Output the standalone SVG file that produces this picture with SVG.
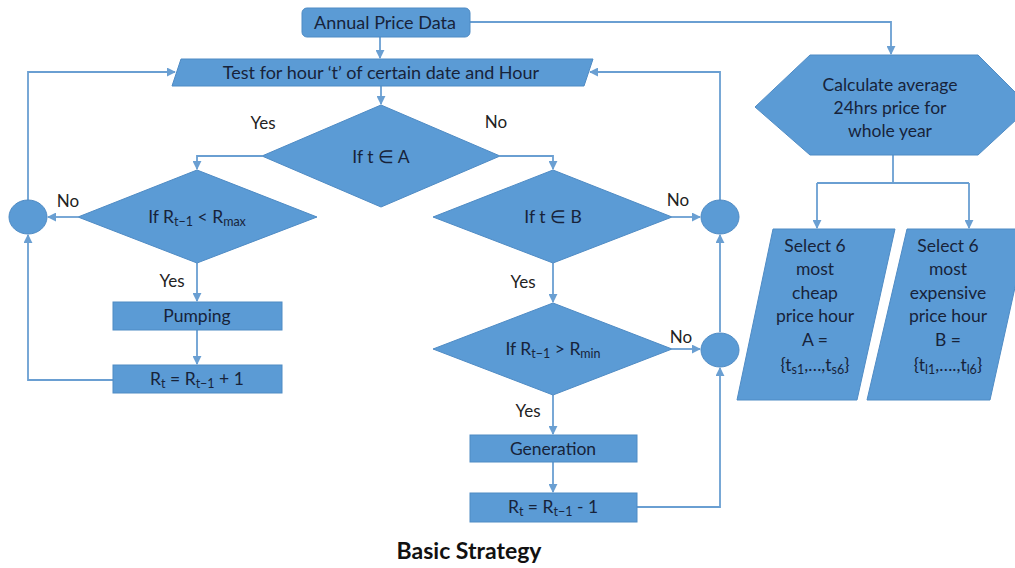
<svg xmlns="http://www.w3.org/2000/svg" width="1015" height="568" viewBox="0 0 1015 568">
<style>
.shape{fill:#5b9bd5;stroke:#4f8bc4;stroke-width:1}
.t{font-family:Lato,"Open Sans","Liberation Sans",sans-serif;font-size:17.5px;fill:#17233a;text-anchor:middle}
.big{font-size:18px}
.lbl{font-family:Lato,"Open Sans","Liberation Sans",sans-serif;font-size:17px;fill:#222;text-anchor:middle}
.sub{font-size:12.5px}
.conn{fill:none;stroke:#6a9fd2;stroke-width:1.8}
.title{font-family:Lato,"Open Sans","Liberation Sans",sans-serif;font-size:23px;font-weight:bold;fill:#111;text-anchor:middle}
</style>
<defs>
<marker id="arr" viewBox="0 0 10 10" refX="9" refY="5" markerWidth="5" markerHeight="5" orient="auto" markerUnits="strokeWidth">
<path d="M0,0 L10,5 L0,10 z" fill="#6a9fd2"/>
</marker>
</defs>
<rect width="1015" height="568" fill="#fff"/>

<g id="connectors">
<path class="conn" d="M470,22 H891 V54" marker-end="url(#arr)"/>
<path class="conn" d="M380,37 V58" marker-end="url(#arr)"/>
<path class="conn" d="M381,86 V104" marker-end="url(#arr)"/>
<path class="conn" d="M262,156 H197 V169" marker-end="url(#arr)"/>
<path class="conn" d="M500,156 H553 V169" marker-end="url(#arr)"/>
<path class="conn" d="M78,217 H48" marker-end="url(#arr)"/>
<path class="conn" d="M28,200 V72 H175" marker-end="url(#arr)"/>
<path class="conn" d="M197,263 V301" marker-end="url(#arr)"/>
<path class="conn" d="M197,330 V364" marker-end="url(#arr)"/>
<path class="conn" d="M113,380 H28 V235" marker-end="url(#arr)"/>
<path class="conn" d="M672,217 H700" marker-end="url(#arr)"/>
<path class="conn" d="M720,200 V72 H590" marker-end="url(#arr)"/>
<path class="conn" d="M553,263 V302" marker-end="url(#arr)"/>
<path class="conn" d="M672,349 H700" marker-end="url(#arr)"/>
<path class="conn" d="M720,332 V235" marker-end="url(#arr)"/>
<path class="conn" d="M553,395 V434" marker-end="url(#arr)"/>
<path class="conn" d="M553,462 V492" marker-end="url(#arr)"/>
<path class="conn" d="M637,507 H720 V368" marker-end="url(#arr)"/>
<path class="conn" d="M893,155 V183 M817,183 H969" />
<path class="conn" d="M817,183 V228" marker-end="url(#arr)"/>
<path class="conn" d="M969,183 V228" marker-end="url(#arr)"/>
</g>

<g id="annual">
<rect class="shape" x="302" y="8" width="168" height="29" rx="5"/>
<text class="t big" x="385" y="29">Annual Price Data</text>
</g>

<g id="test">
<polygon class="shape" points="181,59 593,59 584,86 172,86"/>
<text class="t big" x="381" y="79">Test for hour ‘t’ of certain date and Hour</text>
</g>

<g id="ifA">
<polygon class="shape" points="381,105 500,156 381,207 262,156"/>
<text class="t" x="381" y="163">If t ∈ A</text>
</g>
<text class="lbl" x="263" y="129">Yes</text>
<text class="lbl" x="496" y="128">No</text>

<g id="ifRmax">
<polygon class="shape" points="197,170 317,217 197,263 78,217"/>
<text class="t" x="197" y="223">If R<tspan class="sub" dy="3">t−1</tspan><tspan dy="-3"> &lt; R</tspan><tspan class="sub" dy="3">max</tspan></text>
</g>
<text class="lbl" x="68" y="207">No</text>
<text class="lbl" x="172" y="287">Yes</text>

<g id="leftCircle">
<ellipse class="shape" cx="28" cy="217" rx="19" ry="17"/>
</g>

<g id="pumping">
<rect class="shape" x="113" y="302" width="169" height="28"/>
<text class="t" x="197" y="322">Pumping</text>
</g>

<g id="rtPlus">
<rect class="shape" x="113" y="365" width="169" height="28"/>
<text class="t" x="197" y="385">R<tspan class="sub" dy="3">t</tspan><tspan dy="-3"> = R</tspan><tspan class="sub" dy="3">t−1</tspan><tspan dy="-3"> + 1</tspan></text>
</g>

<g id="ifB">
<polygon class="shape" points="553,170 672,217 553,263 433,217"/>
<text class="t" x="553" y="223">If t ∈ B</text>
</g>
<text class="lbl" x="678" y="206">No</text>
<text class="lbl" x="523" y="288">Yes</text>

<g id="circleB">
<ellipse class="shape" cx="720" cy="217" rx="19" ry="17"/>
</g>

<g id="ifRmin">
<polygon class="shape" points="553,303 672,349 553,395 433,349"/>
<text class="t" x="553" y="355">If R<tspan class="sub" dy="3">t−1</tspan><tspan dy="-3"> &gt; R</tspan><tspan class="sub" dy="3">min</tspan></text>
</g>
<text class="lbl" x="681" y="343">No</text>
<text class="lbl" x="528" y="417">Yes</text>

<g id="circleC">
<ellipse class="shape" cx="720" cy="350" rx="19" ry="17"/>
</g>

<g id="generation">
<rect class="shape" x="470" y="435" width="167" height="27"/>
<text class="t" x="553" y="455">Generation</text>
</g>

<g id="rtMinus">
<rect class="shape" x="470" y="493" width="167" height="29"/>
<text class="t" x="553" y="513">R<tspan class="sub" dy="3">t</tspan><tspan dy="-3"> = R</tspan><tspan class="sub" dy="3">t−1</tspan><tspan dy="-3"> - 1</tspan></text>
</g>

<g id="calc">
<polygon class="shape" points="810,55 978,55 1030,107 978,155 810,155 755,107"/>
<text class="t" x="890" y="91">Calculate average</text>
<text class="t" x="890" y="114">24hrs price for</text>
<text class="t" x="890" y="137">whole year</text>
</g>

<g id="selectA">
<polygon class="shape" points="773,229 895,229 857,400 737,400"/>
<text class="t" x="815" y="252">Select 6</text>
<text class="t" x="815" y="275">most</text>
<text class="t" x="815" y="299">cheap</text>
<text class="t" x="815" y="322">price hour</text>
<text class="t" x="815" y="346">A =</text>
<text class="t" x="815" y="371">{t<tspan class="sub" dy="3">s1</tspan><tspan dy="-3">,…,t</tspan><tspan class="sub" dy="3">s6</tspan><tspan dy="-3">}</tspan></text>
</g>

<g id="selectB">
<polygon class="shape" points="907,229 1028,229 990,400 867,400"/>
<text class="t" x="948" y="252">Select 6</text>
<text class="t" x="948" y="275">most</text>
<text class="t" x="948" y="299">expensive</text>
<text class="t" x="948" y="322">price hour</text>
<text class="t" x="948" y="346">B =</text>
<text class="t" x="948" y="371">{t<tspan class="sub" dy="3">l1</tspan><tspan dy="-3">,….,t</tspan><tspan class="sub" dy="3">l6</tspan><tspan dy="-3">}</tspan></text>
</g>

<text class="title" x="469" y="559">Basic Strategy</text>
</svg>
